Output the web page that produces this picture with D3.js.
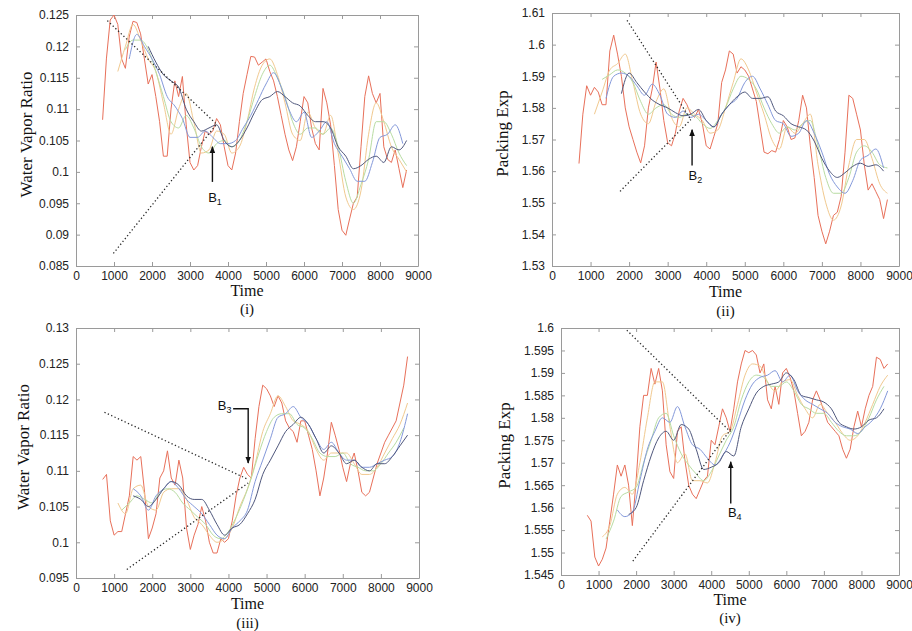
<!DOCTYPE html>
<html><head><meta charset="utf-8">
<script src="https://cdn.jsdelivr.net/npm/d3@7"></script>
<style>
html,body{margin:0;padding:0;background:#fff;}
svg{display:block;}
</style></head>
<body><svg id="c" width="912" height="631"></svg>
<script>
// ---------------- DATA ----------------
const xTicks = [0,1000,2000,3000,4000,5000,6000,7000,8000,9000];
const xTickLabels = ["0","1000","2000","3000","4000","5000","6000","7000","8000","9000"];

const yTicks1 = [0.085,0.09,0.095,0.1,0.105,0.11,0.115,0.12,0.125];
const yTickLabels1 = ["0.085","0.09","0.095","0.1","0.105","0.11","0.115","0.12","0.125"];
const yTicks2 = [1.53,1.54,1.55,1.56,1.57,1.58,1.59,1.6,1.61];
const yTickLabels2 = ["1.53","1.54","1.55","1.56","1.57","1.58","1.59","1.6","1.61"];
const yTicks3 = [0.095,0.1,0.105,0.11,0.115,0.12,0.125,0.13];
const yTickLabels3 = ["0.095","0.1","0.105","0.11","0.115","0.12","0.125","0.13"];
const yTicks4 = [1.545,1.55,1.555,1.56,1.565,1.57,1.575,1.58,1.585,1.59,1.595,1.6];
const yTickLabels4 = ["1.545","1.55","1.555","1.56","1.565","1.57","1.575","1.58","1.585","1.59","1.595","1.6"];

const yLabels = ["Water Vapor Ratio","Packing Exp","Water Vapor Ratio","Packing Exp"];
const xLabel = "Time";
const captions = ["(i)","(ii)","(iii)","(iv)"];
const breakLabels = ["1","2","3","4"];

// series order: red, yellow, green, blue, navy
const seriesSteps = [100,200,200,200,200];

// panel (i)
const p1Starts = [700,1100,1300,1400,1900];
const p1Red = [0.1083,0.118,0.1242,0.125,0.1235,0.118,0.1165,0.1215,0.124,0.1238,
  0.122,0.118,0.114,0.1155,0.112,0.108,0.1025,0.1025,0.110,0.1145,
  0.112,0.1152,0.1075,0.1015,0.1003,0.101,0.104,0.1065,0.106,0.1065,
  0.1085,0.1075,0.104,0.101,0.1003,0.103,0.108,0.1125,0.1155,0.1184,
  0.1183,0.117,0.1175,0.118,0.116,0.1145,0.112,0.109,0.106,0.1035,
  0.1018,0.104,0.108,0.112,0.111,0.107,0.1045,0.1035,0.1133,0.111,
  0.1075,0.101,0.094,0.0907,0.0899,0.0925,0.095,0.096,0.104,0.112,
  0.1153,0.1125,0.111,0.1125,0.104,0.102,0.1015,0.1035,0.1005,0.0975,
  0.1003];
const p1Yellow = [0.116,0.120,0.1235,0.121,0.118, 0.116,0.111,0.106,0.110,0.1125,
  0.108,0.103,0.1035,0.1065,0.106, 0.103,0.104,0.108,0.1135,0.117,
  0.118,0.1155,0.111,0.106,0.105, 0.1095,0.107,0.106,0.109,0.103,
  0.096,0.094,0.097,0.106,0.111, 0.108,0.104,0.102,0.100];
const p1Green = [0.1195,0.121,0.121,0.1195,0.116, 0.112,0.108,0.107,0.109,0.107,
  0.104,0.103,0.1045,0.105,0.104, 0.105,0.108,0.112,0.1155,0.117,
  0.115,0.112,0.108,0.106,0.107, 0.107,0.106,0.107,0.104,0.0985,
  0.095,0.098,0.102,0.108,0.108, 0.106,0.103,0.101];
const p1Blue = [0.118,0.1219,0.120,0.118,0.1155, 0.112,0.1105,0.1085,0.1055,0.1055,
  0.1065,0.1055,0.1045,0.1045,0.105, 0.107,0.109,0.1115,0.114,0.1158,
  0.1135,0.110,0.108,0.1095,0.1055, 0.1065,0.108,0.1045,0.1025,0.1005,
  0.0985,0.0985,0.1015,0.1055,0.106, 0.1075,0.1045];
const p1Navy = [0.120,0.1175,0.1155,0.1145,0.1135, 0.110,0.108,0.1065,0.107,0.1075,
  0.105,0.104,0.105,0.107,0.1095, 0.1115,0.112,0.1128,0.112,0.111,
  0.1105,0.109,0.108,0.108,0.107, 0.104,0.1025,0.1005,0.101,0.102,
  0.1025,0.1015,0.104,0.1035,0.105];
const p1Trend = [[[825,0.1241],[3700,0.1076]],[[983,0.0870],[3700,0.1076]]];
const p1Arrow = [[3590,0.0984],[3590,0.1040]];
const p1Label = [3658,0.0952];

// panel (ii)
const p2Starts = [700,1100,1300,1400,1800];
const p2Red = [1.5624,1.578,1.587,1.584,1.5865,1.585,1.581,1.581,1.598,1.603,
  1.597,1.590,1.580,1.574,1.570,1.566,1.5626,1.568,1.580,1.586,
  1.5945,1.586,1.576,1.569,1.568,1.572,1.579,1.583,1.581,1.578,
  1.577,1.5795,1.575,1.568,1.567,1.571,1.575,1.588,1.592,1.598,
  1.597,1.591,1.593,1.592,1.590,1.586,1.582,1.574,1.566,1.5655,
  1.5665,1.566,1.570,1.576,1.574,1.570,1.5705,1.576,1.584,1.580,
  1.568,1.558,1.546,1.541,1.537,1.541,1.546,1.547,1.552,1.566,
  1.584,1.583,1.578,1.573,1.562,1.554,1.556,1.5535,1.551,1.545,
  1.551];
const p2Yellow = [1.578,1.585,1.592,1.594,1.597, 1.588,1.578,1.575,1.582,1.586,
  1.577,1.574,1.580,1.578,1.576, 1.572,1.573,1.580,1.588,1.5955,
  1.592,1.585,1.578,1.570,1.567, 1.574,1.572,1.575,1.578,1.562,
  1.550,1.5445,1.549,1.562,1.570, 1.570,1.564,1.556,1.553];
const p2Green = [1.589,1.5905,1.592,1.591,1.588, 1.582,1.578,1.580,1.581,1.578,
  1.577,1.578,1.5775,1.575,1.5735, 1.576,1.580,1.586,1.590,1.589,
  1.586,1.580,1.575,1.572,1.574, 1.573,1.575,1.576,1.568,1.558,
  1.553,1.553,1.558,1.566,1.568, 1.566,1.562,1.561];
const p2Blue = [1.583,1.590,1.591,1.590,1.587, 1.584,1.5875,1.584,1.578,1.577,
  1.579,1.577,1.578,1.576,1.574, 1.578,1.581,1.583,1.588,1.590,
  1.586,1.581,1.576,1.575,1.571, 1.572,1.576,1.572,1.566,1.559,
  1.555,1.553,1.557,1.5635,1.565, 1.567,1.561];
const p2Navy = [1.5845,1.591,1.588,1.585,1.5825, 1.581,1.580,1.5785,1.5775,1.578,
  1.5795,1.576,1.574,1.578,1.581, 1.5835,1.585,1.583,1.583,1.5835,
  1.579,1.5775,1.575,1.574,1.573, 1.5695,1.564,1.560,1.558,1.5595,
  1.5615,1.5625,1.5615,1.562,1.560];
const p2Trend = [[[1946,1.6077],[3600,1.5763]],[[1765,1.5536],[3600,1.5763]]];
const p2Arrow = [[3633,1.5618],[3633,1.5731]];
const p2Label = [3720,1.5571];

// panel (iii)
const p3Starts = [700,1100,1200,1500,1500];
const p3Red = [0.1088,0.1095,0.103,0.101,0.1015,0.1015,0.104,0.1065,0.112,0.1115,
  0.112,0.107,0.1005,0.102,0.104,0.109,0.110,0.1128,0.109,0.108,
  0.1115,0.109,0.102,0.099,0.101,0.1025,0.105,0.103,0.100,0.0985,
  0.0985,0.1005,0.100,0.1005,0.103,0.1065,0.109,0.1105,0.1095,0.109,
  0.1145,0.119,0.122,0.1215,0.1205,0.119,0.1205,0.1195,0.117,0.116,
  0.1155,0.114,0.117,0.117,0.115,0.113,0.110,0.1065,0.109,0.1125,
  0.1168,0.115,0.113,0.1105,0.1085,0.111,0.1125,0.110,0.107,0.1065,
  0.107,0.109,0.111,0.1125,0.114,0.115,0.116,0.117,0.1195,0.122,
  0.126];
const p3Yellow = [0.1055,0.104,0.1075,0.108,0.105, 0.1045,0.107,0.1075,0.1075,0.106,
  0.1035,0.1025,0.101,0.100,0.1005, 0.102,0.105,0.1075,0.111,0.1155,
  0.118,0.1205,0.119,0.117,0.1165, 0.1155,0.113,0.1115,0.1125,0.1125,
  0.1125,0.111,0.1095,0.1095,0.1105, 0.1125,0.1145,0.1165,0.1195];
const p3Green = [0.1045,0.1055,0.1065,0.106,0.1055, 0.107,0.1075,0.107,0.1055,0.1045,
  0.1035,0.1025,0.101,0.1005,0.1015, 0.1035,0.106,0.109,0.1125,0.1155,
  0.1175,0.118,0.118,0.1165,0.116, 0.1145,0.1125,0.112,0.112,0.1125,
  0.111,0.1105,0.110,0.110,0.111, 0.1125,0.114,0.116];
const p3Blue = [0.1075,0.1065,0.1045,0.1065,0.1075, 0.1085,0.1075,0.106,0.105,0.104,
  0.1025,0.101,0.1005,0.102,0.103, 0.1045,0.1085,0.1115,0.1145,0.1175,
  0.118,0.119,0.1175,0.1165,0.1145, 0.113,0.114,0.1125,0.1115,0.1115,
  0.1105,0.1105,0.111,0.1115,0.112, 0.114,0.118];
const p3Navy = [0.1065,0.106,0.105,0.106,0.1075, 0.1085,0.108,0.1065,0.106,0.106,
  0.1045,0.1025,0.101,0.102,0.1025, 0.104,0.106,0.1095,0.1115,0.1135,
  0.1155,0.1165,0.1175,0.1165,0.1145, 0.1125,0.1135,0.1125,0.111,0.1115,
  0.1105,0.110,0.111,0.111,0.112, 0.1135,0.115];
const p3Trend = [[[746,0.1182],[4518,0.1088]],[[1333,0.0962],[4518,0.1083]]];
const p3Arrow = [[4123,0.1187],[4518,0.1187],[4518,0.1111]];
const p3Label = [4080,0.1185];

// panel (iv)
const p4Starts = [700,1100,1200,1500,1800];
const p4Red = [1.5583,1.557,1.549,1.547,1.5485,1.551,1.557,1.563,1.5695,1.567,
  1.5695,1.565,1.556,1.566,1.578,1.585,1.585,1.591,1.5875,1.591,
  1.586,1.574,1.568,1.5665,1.577,1.578,1.5705,1.565,1.563,1.562,
  1.564,1.566,1.567,1.575,1.574,1.578,1.582,1.580,1.577,1.582,
  1.588,1.592,1.595,1.5945,1.595,1.594,1.590,1.592,1.584,1.582,
  1.587,1.583,1.590,1.591,1.589,1.586,1.581,1.576,1.577,1.579,
  1.584,1.586,1.584,1.5815,1.579,1.578,1.577,1.576,1.573,1.571,
  1.573,1.578,1.5815,1.578,1.582,1.585,1.587,1.5935,1.593,1.591,
  1.592];
const p4Yellow = [1.5535,1.556,1.563,1.5645,1.563, 1.570,1.580,1.588,1.588,1.578,
  1.570,1.572,1.566,1.566,1.5655, 1.570,1.576,1.577,1.583,1.5895,
  1.592,1.5915,1.588,1.586,1.588, 1.5885,1.585,1.582,1.580,1.583,
  1.581,1.579,1.5765,1.575,1.576, 1.579,1.583,1.587,1.5895];
const p4Green = [1.553,1.557,1.5625,1.5635,1.5645, 1.570,1.575,1.580,1.581,1.576,
  1.572,1.5695,1.5675,1.566,1.568, 1.5715,1.575,1.578,1.584,1.588,
  1.5895,1.589,1.587,1.587,1.588, 1.586,1.583,1.582,1.581,1.581,
  1.579,1.577,1.576,1.576,1.577, 1.580,1.584,1.587];
const p4Blue = [1.5595,1.558,1.559,1.566,1.573, 1.577,1.580,1.579,1.5825,1.578,
  1.574,1.573,1.571,1.5695,1.5715, 1.5745,1.579,1.584,1.5875,1.589,
  1.5895,1.5905,1.588,1.5895,1.586, 1.584,1.583,1.582,1.581,1.579,
  1.578,1.5775,1.5765,1.578,1.5795, 1.582,1.586];
const p4Navy = [1.5585,1.560,1.566,1.5715,1.5755, 1.577,1.575,1.5785,1.5775,1.573,
  1.5685,1.569,1.570,1.5725,1.5715, 1.578,1.582,1.5855,1.587,1.5875,
  1.588,1.590,1.5885,1.585,1.5845, 1.584,1.5835,1.582,1.579,1.578,
  1.5775,1.578,1.5795,1.580,1.582];
const p4Trend = [[[1753,1.5995],[4511,1.5769]],[[1913,1.5481],[4537,1.5776]]];
const p4Arrow = [[4520,1.5609],[4520,1.5702]];
const p4Label = [4626,1.558];

// ---------------- LAYOUT / STYLE ----------------
const colors = ["#e8705a","#f1c98f","#b8dca2","#8398da","#4f577c"];
const boxes = [
  {l:76, r:418, t:15, b:266, yd:[0.085,0.125], ylx:26,  tOff:30, cOff:48},
  {l:552,r:899, t:13, b:266, yd:[1.53,1.61],   ylx:502, tOff:31, cOff:50},
  {l:76, r:419, t:328,b:578, yd:[0.095,0.13],  ylx:23,  tOff:31, cOff:50},
  {l:561,r:899, t:328,b:575, yd:[1.545,1.6],   ylx:504, tOff:30, cOff:48}
];
const panelData = [
  {yt:yTicks1, yl:yTickLabels1, starts:p1Starts, series:[p1Red,p1Yellow,p1Green,p1Blue,p1Navy], trend:p1Trend, arrow:p1Arrow, lab:p1Label, anchor:"middle"},
  {yt:yTicks2, yl:yTickLabels2, starts:p2Starts, series:[p2Red,p2Yellow,p2Green,p2Blue,p2Navy], trend:p2Trend, arrow:p2Arrow, lab:p2Label, anchor:"middle"},
  {yt:yTicks3, yl:yTickLabels3, starts:p3Starts, series:[p3Red,p3Yellow,p3Green,p3Blue,p3Navy], trend:p3Trend, arrow:p3Arrow, lab:p3Label, anchor:"end"},
  {yt:yTicks4, yl:yTickLabels4, starts:p4Starts, series:[p4Red,p4Yellow,p4Green,p4Blue,p4Navy], trend:p4Trend, arrow:p4Arrow, lab:p4Label, anchor:"middle"}
];

const sansFont = "'Liberation Sans', Arial, Helvetica, sans-serif";
const serifFont = "'Liberation Serif', 'Times New Roman', serif";
const svg = d3.select("#c");
const defs = svg.append("defs");
defs.append("marker").attr("id","ah").attr("viewBox","0 0 10 8")
  .attr("refX",9).attr("refY",4).attr("markerWidth",7).attr("markerHeight",6)
  .attr("markerUnits","userSpaceOnUse").attr("orient","auto")
  .append("path").attr("d","M0,0 L10,4 L0,8 Z").attr("fill","#111");

boxes.forEach((bx, pi) => {
  const pd = panelData[pi];
  const x = d3.scaleLinear().domain([0,9000]).range([bx.l,bx.r]);
  const y = d3.scaleLinear().domain(bx.yd).range([bx.b,bx.t]);
  const g = svg.append("g");
  const frameColor = "#9a9a9a";

  const axB = g.append("g").attr("transform",`translate(0,${bx.b})`)
    .call(d3.axisBottom(x).tickValues(xTicks).tickSizeInner(-4).tickSizeOuter(0)
      .tickPadding(4).tickFormat((d,i)=>xTickLabels[i]));
  const axT = g.append("g").attr("transform",`translate(0,${bx.t})`)
    .call(d3.axisTop(x).tickValues(xTicks).tickSizeInner(-4).tickSizeOuter(0).tickFormat(""));
  const axL = g.append("g").attr("transform",`translate(${bx.l},0)`)
    .call(d3.axisLeft(y).tickValues(pd.yt).tickSizeInner(-4).tickSizeOuter(0)
      .tickPadding(7).tickFormat((d,i)=>pd.yl[i]));
  const axR = g.append("g").attr("transform",`translate(${bx.r},0)`)
    .call(d3.axisRight(y).tickValues(pd.yt).tickSizeInner(-4).tickSizeOuter(0).tickFormat(""));
  [axB,axT,axL,axR].forEach(a=>{
    a.select(".domain").attr("stroke",frameColor).attr("stroke-width",1);
    a.selectAll(".tick line").attr("stroke",frameColor);
    a.selectAll(".tick text").attr("fill","#222").style("font-family",sansFont).style("font-size","12px");
  });
  axB.selectAll(".tick text").attr("y",5).attr("dy","0.71em");

  const clipId = "clip"+pi;
  defs.append("clipPath").attr("id",clipId).append("rect")
    .attr("x",bx.l).attr("y",bx.t).attr("width",bx.r-bx.l).attr("height",bx.b-bx.t);
  const lines = g.append("g").attr("clip-path",`url(#${clipId})`);
  pd.series.forEach((vals, si) => {
    const start = pd.starts[si], step = seriesSteps[si];
    const pts = vals.map((v,k)=>[start + k*step, v]);
    const line = d3.line().x(d=>x(d[0])).y(d=>y(d[1]))
      .curve(si===0 ? d3.curveLinear : d3.curveMonotoneX);
    lines.append("path").datum(pts).attr("d",line)
      .attr("fill","none").attr("stroke",colors[si]).attr("stroke-width",1)
      .attr("stroke-linejoin","round");
  });

  pd.trend.forEach(seg=>{
    g.append("path").datum(seg)
      .attr("d", d3.line().x(d=>x(d[0])).y(d=>y(d[1])))
      .attr("fill","none").attr("stroke","#2a2a2a").attr("stroke-width",1.3)
      .attr("stroke-dasharray","1.3,2.4");
  });

  g.append("path").datum(pd.arrow)
    .attr("d", d3.line().x(d=>x(d[0])).y(d=>y(d[1])))
    .attr("fill","none").attr("stroke","#111").attr("stroke-width",1.4)
    .attr("marker-end","url(#ah)");
  const bt = g.append("text").attr("x",x(pd.lab[0])).attr("y",y(pd.lab[1]))
    .attr("text-anchor",pd.anchor).style("font-family",sansFont).style("font-size","13px").attr("fill","#111");
  bt.append("tspan").text("B");
  bt.append("tspan").attr("dy","3").style("font-size","9px").text(breakLabels[pi]);

  const cx = (bx.l+bx.r)/2;
  g.append("text").attr("x",cx).attr("y",bx.b+bx.tOff).attr("text-anchor","middle")
    .style("font-family",serifFont).style("font-size","16px").attr("fill","#111").text(xLabel);
  g.append("text").attr("x",cx).attr("y",bx.b+bx.cOff).attr("text-anchor","middle")
    .style("font-family",serifFont).style("font-size","15px").attr("fill","#111").text(captions[pi]);
  const cy = (bx.t+bx.b)/2 - 6;
  g.append("text").attr("transform",`translate(${bx.ylx},${cy}) rotate(-90)`)
    .attr("dy","0.35em").attr("text-anchor","middle")
    .style("font-family",serifFont).style("font-size","17px").attr("fill","#111").text(yLabels[pi]);
});
</script></body></html>
